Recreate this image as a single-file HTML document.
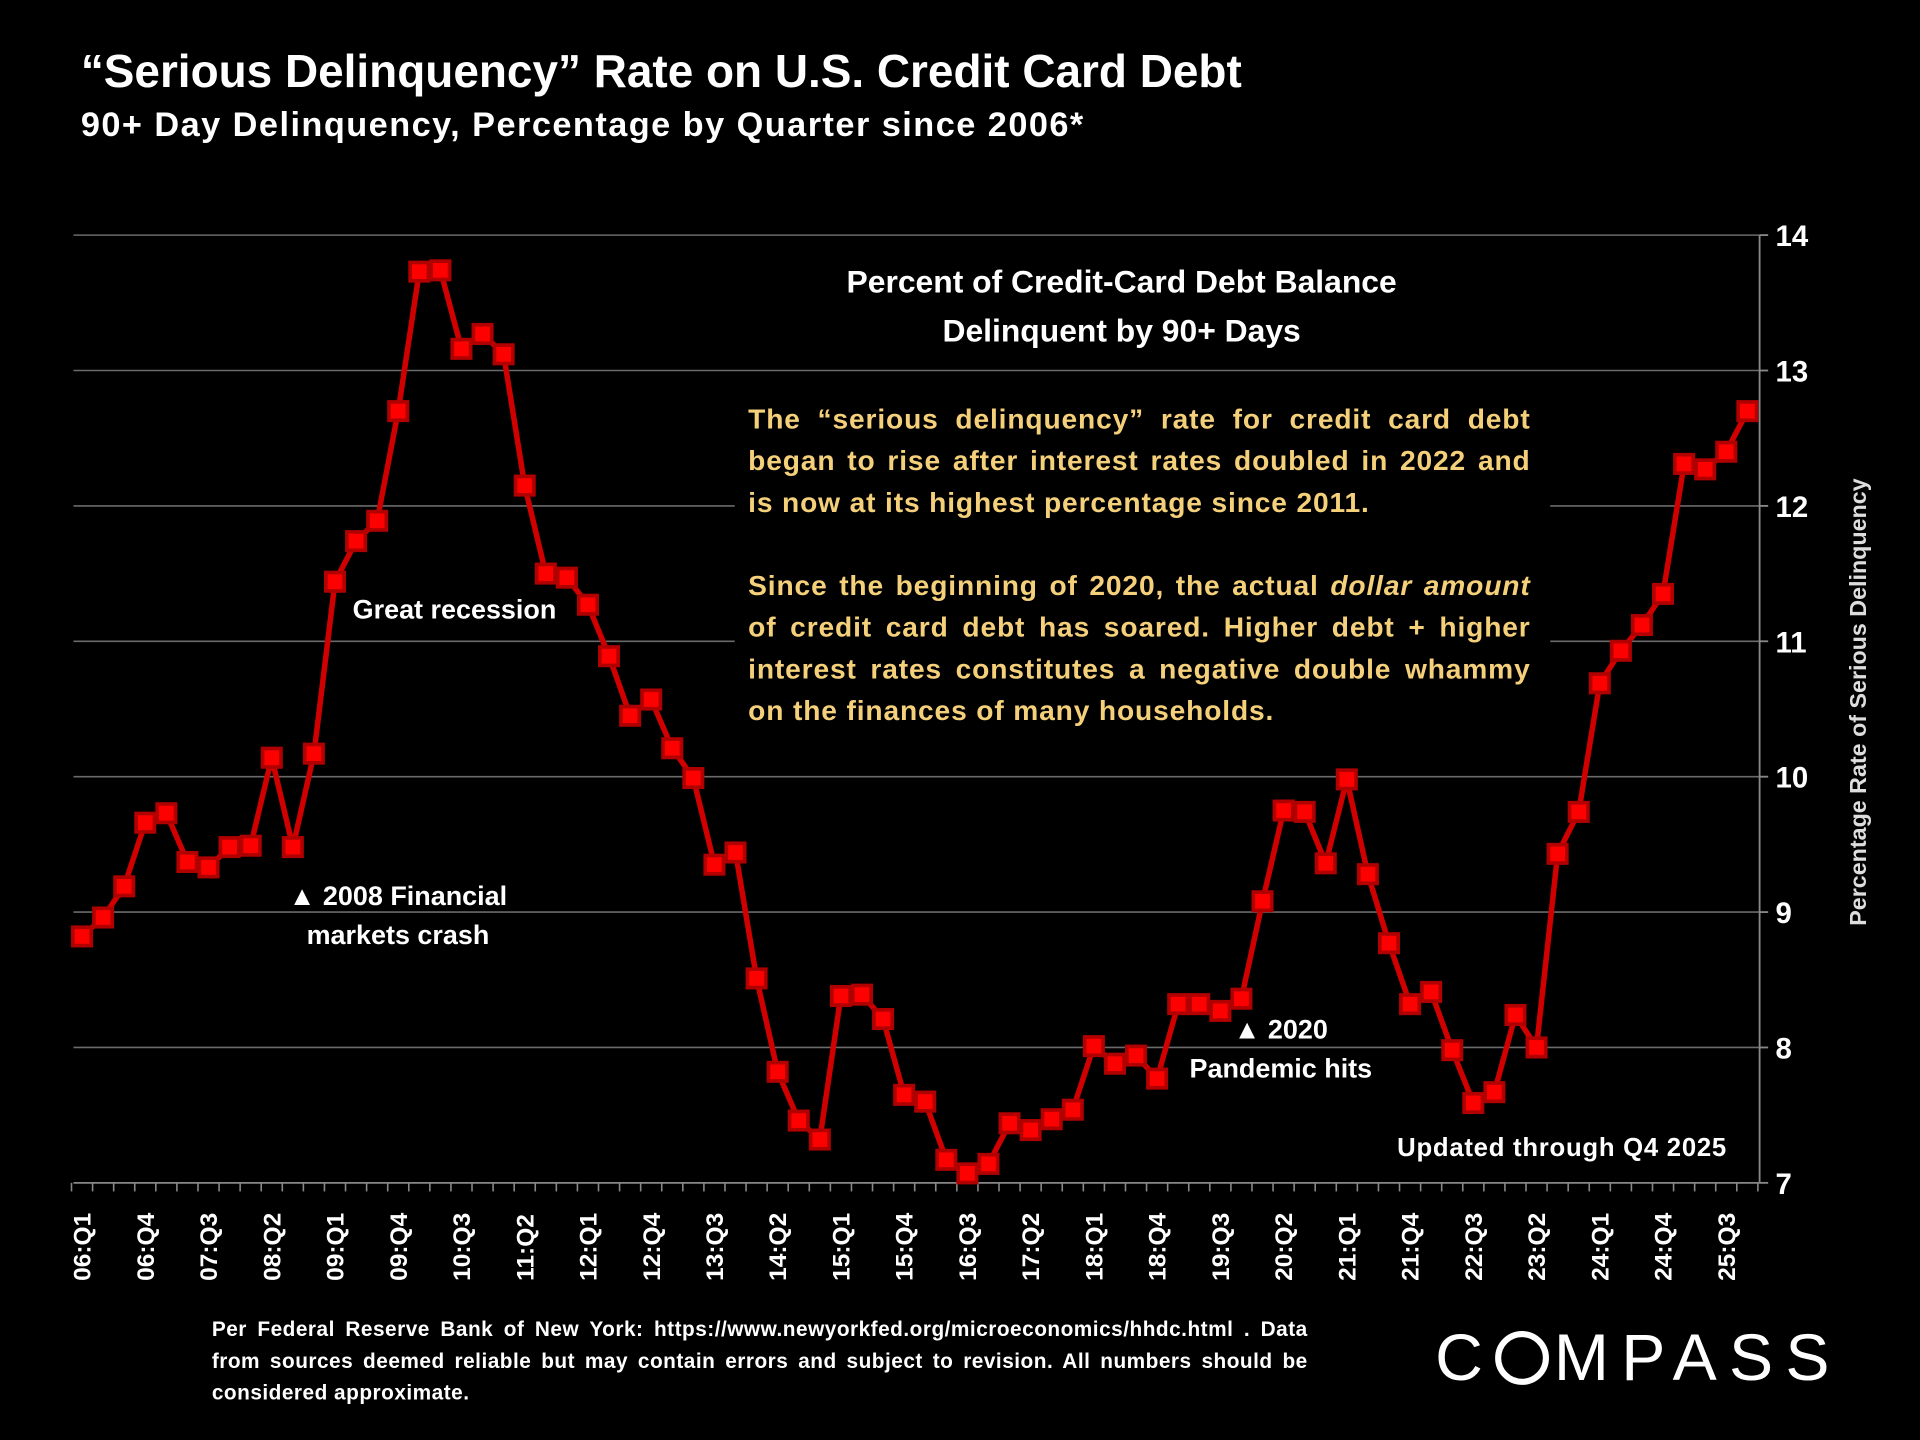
<!DOCTYPE html>
<html><head><meta charset="utf-8">
<style>
html,body{margin:0;padding:0;background:#000;overflow:hidden}
#wrap{position:absolute;left:0;top:0;width:1568px;height:1176px;transform:scale(1.22449);transform-origin:0 0;background:#000;font-family:"Liberation Sans",sans-serif;color:#fff;font-weight:bold}
.t{position:absolute;white-space:nowrap;z-index:3}
</style></head><body>
<div id="wrap">
<svg id="chart" width="1568" height="1176" style="position:absolute;left:0;top:0;z-index:1" xmlns="http://www.w3.org/2000/svg"></svg>
<div class="t" style="left:66px;top:37px;font-size:37.5px;">“Serious Delinquency” Rate on U.S. Credit Card Debt</div>
<div class="t" style="left:66px;top:86px;font-size:28px;letter-spacing:1.2px">90+ Day Delinquency, Percentage by Quarter since 2006*</div>
<div class="t" style="left:620px;top:210px;width:592px;text-align:center;font-size:26px;line-height:40px;white-space:normal">Percent of Credit-Card Debt Balance<br>Delinquent by 90+ Days</div>
<div style="position:absolute;left:600px;top:326px;width:666px;height:276px;background:#000;z-index:2"></div>
<div class="t" style="left:611px;top:325px;width:639px;font-size:23px;letter-spacing:0.7px;line-height:34px;color:#f5d07a;white-space:normal;text-align:justify;text-align-last:left">The “serious delinquency” rate for credit card debt began to rise after interest rates doubled in 2022 and is now at its highest percentage since 2011.<br><br>Since the beginning of 2020, the actual <i>dollar amount</i> of credit card debt has soared. Higher debt + higher interest rates constitutes a negative double whammy on the finances of many households.</div>
<div class="t" style="left:288px;top:485px;font-size:22px;">Great recession</div>
<div class="t" style="left:225px;top:716px;font-size:22px;line-height:32px;text-align:center;width:200px">▲ 2008 Financial<br>markets crash</div>
<div class="t" style="left:961px;top:825px;font-size:22px;line-height:32px;text-align:center;width:170px">▲ 2020<br>Pandemic hits</div>
<div class="t" style="left:1141px;top:926px;font-size:21px;letter-spacing:0.6px">Updated through Q4 2025</div>
<div class="t" style="font-size:19px;transform:rotate(-90deg);transform-origin:0 0;top:756px;left:1508px;color:#ddd">Percentage Rate of Serious Delinquency</div>
<div class="t" style="left:173px;top:1073px;width:895px;font-size:17px;letter-spacing:0.4px;line-height:26px;white-space:normal;text-align:justify;text-align-last:left">Per Federal Reserve Bank of New York: https://www.newyorkfed.org/microeconomics/hhdc.html . Data from sources deemed reliable but may contain errors and subject to revision. All numbers should be considered approximate.</div>
<div class="t" style="left:1172px;top:1078px;font-size:54px;font-weight:normal;letter-spacing:10px">C<span style="display:inline-block;width:44px;height:44px;border:5px solid #fff;border-radius:50%;box-sizing:border-box;vertical-align:-4px;margin:0 4px 0 0"></span>MPASS</div>
</div>
<script>
var d=[8.82,8.96,9.19,9.66,9.73,9.37,9.33,9.48,9.49,10.14,9.48,10.17,11.44,11.74,11.89,12.70,13.73,13.74,13.16,13.27,13.12,12.15,11.50,11.47,11.27,10.89,10.45,10.57,10.21,9.99,9.35,9.44,8.51,7.82,7.46,7.32,8.38,8.39,8.21,7.65,7.60,7.17,7.07,7.14,7.44,7.39,7.47,7.54,8.01,7.88,7.94,7.77,8.32,8.32,8.27,8.36,9.08,9.75,9.74,9.36,9.98,9.28,8.77,8.32,8.41,7.98,7.59,7.67,8.24,8.00,9.43,9.74,10.69,10.93,11.12,11.35,12.31,12.27,12.40,12.70];
var x0=67,dx=(1427-67)/79,Y=function(v){return 966-(v-7)*110.57};
var s='';
for(var v=8;v<=14;v++)s+='<line x1="60" x2="1437" y1="'+Y(v)+'" y2="'+Y(v)+'" stroke="#6a6a6a" stroke-width="1.3"/>';
s+='<line x1="60" x2="1437" y1="966" y2="966" stroke="#888" stroke-width="1.5"/>';
s+='<line x1="1437" x2="1437" y1="192" y2="966" stroke="#888" stroke-width="1.5"/>';
for(var v=7;v<=14;v++){s+='<line x1="1437" x2="1444" y1="'+Y(v)+'" y2="'+Y(v)+'" stroke="#888" stroke-width="1.5"/>';
s+='<text x="1450" y="'+(Y(v)+9)+'" fill="#fff" font-size="24" font-family="Liberation Sans" font-weight="bold">'+v+'</text>';}
for(var i=0;i<=80;i++){var xx=x0-dx/2+i*dx;s+='<line x1="'+xx+'" x2="'+xx+'" y1="966" y2="973" stroke="#888" stroke-width="1.3"/>';}
for(var i=0;i<80;i+=3){var yr=6+Math.floor(i/4),q=i%4+1;var lab=(yr<10?'0':'')+yr+':Q'+q;var xx=x0+i*dx+7;
s+='<text transform="translate('+xx+',1046) rotate(-90)" fill="#fff" font-size="20" font-family="Liberation Sans" font-weight="bold">'+lab+'</text>';}
var p='';for(var i=0;i<80;i++)p+=(i?'L':'M')+(x0+i*dx).toFixed(1)+' '+Y(d[i]).toFixed(1);
s+='<path d="'+p+'" fill="none" stroke="#d00000" stroke-width="4.5" stroke-linejoin="round"/>';
for(var i=0;i<80;i++)s+='<rect x="'+(x0+i*dx-7.5)+'" y="'+(Y(d[i])-7.5)+'" width="15" height="15" fill="#f00" stroke="#b00000" stroke-width="3"/>';
document.getElementById('chart').innerHTML=s;
</script>
</body></html>
